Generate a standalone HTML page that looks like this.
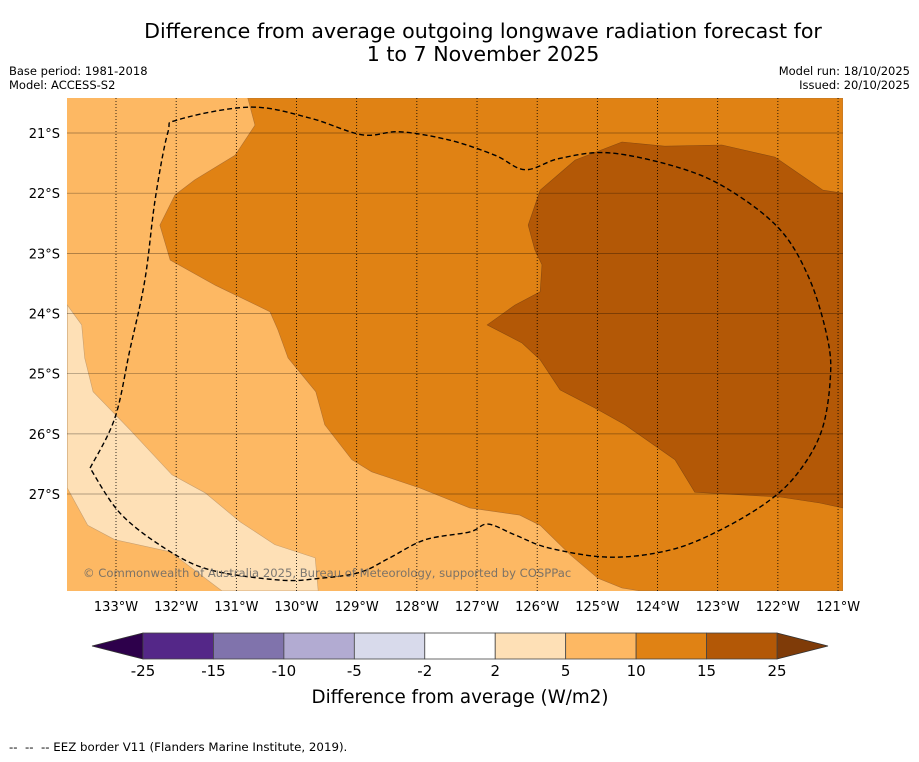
<!DOCTYPE html>
<html><head><meta charset="utf-8"><style>
body{margin:0;background:#fff;width:919px;height:758px;overflow:hidden;font-family:"DejaVu Sans","Liberation Sans",sans-serif}
</style></head><body>
<svg id="svg" width="919" height="758" xmlns="http://www.w3.org/2000/svg" font-family="DejaVu Sans, Liberation Sans, sans-serif">
<text x="483" y="38" font-size="20.6" text-anchor="middle">Difference from average outgoing longwave radiation forecast for</text>
<text x="483" y="61" font-size="20.6" text-anchor="middle">1 to 7 November 2025</text>
<text x="9" y="75" font-size="11.5">Base period: 1981-2018</text>
<text x="9" y="89" font-size="11.5">Model: ACCESS-S2</text>
<text x="910" y="75" font-size="11.5" text-anchor="end">Model run: 18/10/2025</text>
<text x="910" y="89" font-size="11.5" text-anchor="end">Issued: 20/10/2025</text>
<defs><clipPath id="mapclip"><rect x="67" y="98" width="776" height="493"/></clipPath></defs>
<g id="map" clip-path="url(#mapclip)">
<rect x="67" y="98" width="776" height="493" fill="#fdb863"/>
</g>
<g id="axes"></g>
<g id="cbar"></g>
<text x="460" y="703" font-size="18.3" text-anchor="middle">Difference from average (W/m2)</text>
<text x="9" y="751" font-size="11.8" style="white-space:pre">--  --  -- EEZ border V11 (Flanders Marine Institute, 2019).</text>
</svg>
<script>
const lonTicks=[-133,-132,-131,-130,-129,-128,-127,-126,-125,-124,-123,-122,-121];
const latTicks=[-21,-22,-23,-24,-25,-26,-27];
const cbarLevels=[-25,-15,-10,-5,-2,2,5,10,15,25];
const cbarColors=["#542788","#8073ac","#b2abd2","#d8daeb","#ffffff","#fee0b6","#fdb863","#e08214","#b35806"];
const lightRegion=[[-133.81,-23.86],[-133.57,-24.19],[-133.52,-24.74],[-133.38,-25.30],[-132.77,-25.93],[-132.07,-26.68],[-131.52,-26.98],[-130.94,-27.46],[-130.36,-27.84],[-129.69,-28.06],[-129.64,-28.61],[-131.24,-28.61],[-132.10,-27.96],[-133.02,-27.76],[-133.47,-27.52],[-133.81,-26.90]];
const midRegion=[[-130.81,-20.42],[-130.69,-20.87],[-131.02,-21.37],[-131.69,-21.78],[-132.02,-22.03],[-132.27,-22.53],[-132.10,-23.11],[-131.35,-23.53],[-130.44,-23.97],[-130.31,-24.27],[-130.14,-24.74],[-129.68,-25.30],[-129.53,-25.85],[-129.08,-26.43],[-128.75,-26.63],[-127.95,-26.90],[-127.12,-27.23],[-126.29,-27.35],[-125.95,-27.52],[-125.45,-28.01],[-124.99,-28.40],[-124.59,-28.56],[-124.29,-28.61],[-120.92,-28.61],[-120.92,-20.42]];
const darkRegion=[[-126.15,-22.53],[-125.95,-21.95],[-125.37,-21.45],[-124.59,-21.15],[-123.88,-21.22],[-122.93,-21.20],[-122.05,-21.40],[-121.25,-21.95],[-120.92,-22.00],[-120.92,-27.23],[-121.30,-27.15],[-121.96,-27.05],[-123.38,-26.97],[-123.71,-26.43],[-124.54,-25.85],[-125.04,-25.57],[-125.62,-25.27],[-125.95,-24.77],[-126.25,-24.49],[-126.83,-24.19],[-126.37,-23.86],[-125.95,-23.64],[-125.92,-23.19],[-126.04,-22.94]];
const eezBorder=[[-133.43,-26.57],[-133.02,-25.74],[-132.77,-24.61],[-132.52,-23.44],[-132.35,-22.11],[-132.14,-21.00],[-131.97,-20.78],[-130.77,-20.57],[-129.78,-20.75],[-128.91,-21.03],[-128.28,-20.98],[-127.45,-21.12],[-126.70,-21.37],[-126.20,-21.61],[-125.62,-21.42],[-124.79,-21.33],[-123.63,-21.58],[-122.80,-21.95],[-121.96,-22.61],[-121.47,-23.44],[-121.17,-24.44],[-121.13,-25.11],[-121.27,-25.94],[-121.63,-26.60],[-122.13,-27.10],[-122.96,-27.60],[-123.79,-27.93],[-124.79,-28.05],[-125.79,-27.90],[-126.37,-27.68],[-126.82,-27.50],[-127.12,-27.63],[-127.86,-27.76],[-128.45,-28.06],[-128.94,-28.30],[-129.61,-28.40],[-130.27,-28.43],[-131.44,-28.26],[-132.19,-27.90],[-132.93,-27.32],[-133.43,-26.57]];

const NS="http://www.w3.org/2000/svg";
const deg=60.17;
const xLon=l=>116+(l+133)*deg;
const yLat=l=>133+(-21-l)*deg;
function mk(t,a,p){const e=document.createElementNS(NS,t);for(const k in a)e.setAttribute(k,a[k]);p.appendChild(e);return e;}
const pts=arr=>arr.map(p=>xLon(p[0]).toFixed(1)+","+yLat(p[1]).toFixed(1)).join(" ");
function smooth(arr){
 const P=arr.map(p=>[xLon(p[0]),yLat(p[1])]);
 let d="M"+P[0][0].toFixed(1)+","+P[0][1].toFixed(1);
 for(let i=0;i<P.length-1;i++){
  const p0=P[Math.max(0,i-1)],p1=P[i],p2=P[i+1],p3=P[Math.min(P.length-1,i+2)];
  const c1=[p1[0]+(p2[0]-p0[0])/6,p1[1]+(p2[1]-p0[1])/6];
  const c2=[p2[0]-(p3[0]-p1[0])/6,p2[1]-(p3[1]-p1[1])/6];
  d+=" C"+c1.map(v=>v.toFixed(1))+" "+c2.map(v=>v.toFixed(1))+" "+p2.map(v=>v.toFixed(1));
 }
 return d;
}
const map=document.getElementById("map"),axes=document.getElementById("axes"),cbar=document.getElementById("cbar");

let e=mk("polygon",{points:pts(lightRegion),fill:"#fee0b6",stroke:"#c9a070","stroke-width":"0.6"},map);


e=mk("polygon",{points:pts(midRegion),fill:"#e08214",stroke:"#b07030","stroke-width":"0.6"},map);


e=mk("polygon",{points:pts(darkRegion),fill:"#b35806",stroke:"#8a4a10","stroke-width":"0.6"},map);



lonTicks.forEach(l=>{
 const g=mk("line",{x1:xLon(l),x2:xLon(l),y1:98,y2:591,stroke:"#000","stroke-width":"0.8","stroke-dasharray":"1,2"},map);
 
 
 const t=mk("text",{x:xLon(l),y:611,"font-size":13,"text-anchor":"middle"},axes);
 t.textContent=Math.abs(l)+"°W";
 
 
});
latTicks.forEach(l=>{
 const g=mk("line",{x1:67,x2:843,y1:yLat(l),y2:yLat(l),stroke:"#000","stroke-opacity":"0.4","stroke-width":"0.7"},map);
 
 
 const t=mk("text",{x:60,y:yLat(l)+5,"font-size":13,"text-anchor":"end"},axes);
 t.textContent=Math.abs(l)+"°S";
 
 
});
e=mk("path",{d:smooth(eezBorder),fill:"none",stroke:"#000","stroke-width":"1.4","stroke-dasharray":"5,3"},map);


e=mk("text",{x:83,y:577,"font-size":11.6,fill:"#666","fill-opacity":"0.85"},map);
e.textContent="© Commonwealth of Australia 2025, Bureau of Meteorology, supported by COSPPac";



const cx0=143,cx1=777,cy=633,ch=26,n=cbarLevels.length-1,sw=(cx1-cx0)/n;
e=mk("polygon",{points:`${cx0},${cy} ${cx0},${cy+ch} 92,${cy+ch/2}`,fill:"#2d004b",stroke:"#333","stroke-width":"0.8"},cbar);


e=mk("polygon",{points:`${cx1},${cy} ${cx1},${cy+ch} 828,${cy+ch/2}`,fill:"#7f3b08",stroke:"#333","stroke-width":"0.8"},cbar);


cbarColors.forEach((c,i)=>{
 const r=mk("rect",{x:cx0+i*sw,y:cy,width:sw,height:ch,fill:c,stroke:"#444","stroke-width":"0.8"},cbar);
 
 
});
cbarLevels.forEach((v,i)=>{
 const t=mk("text",{x:cx0+i*sw,y:676,"font-size":15,"text-anchor":"middle"},cbar);
 t.textContent=v;
 
 
});
</script>
</body></html>
